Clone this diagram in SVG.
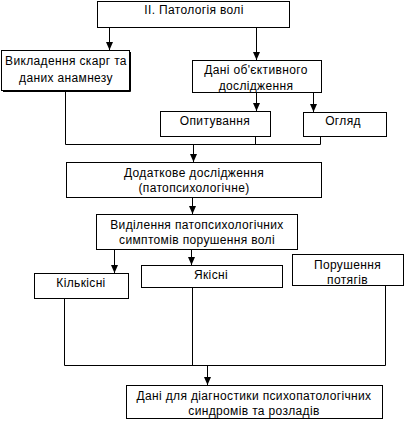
<svg xmlns="http://www.w3.org/2000/svg" width="408" height="426" viewBox="0 0 408 426">
<style>
rect{fill:#fff;stroke:#000;stroke-width:1}
text{font-family:"Liberation Sans",Arial,sans-serif;font-size:12px;letter-spacing:0.35px;fill:#000;text-anchor:middle}
.c line,.c polyline{stroke:#000;stroke-width:1;fill:none}
.a{marker-end:url(#arr)}
</style>
<defs>
<marker id="arr" viewBox="0 0 8 7" refX="8" refY="3.5" markerWidth="8" markerHeight="7" markerUnits="userSpaceOnUse" orient="auto">
<path d="M0,0 L8,3.5 L0,7 z" fill="#000"/>
</marker>
</defs>
<rect x="0" y="0" width="408" height="426" style="stroke:none"/>
<g class="c">
<line class="a" x1="109.5" y1="28" x2="109.5" y2="50"/>
<line class="a" x1="256.5" y1="28" x2="256.5" y2="60"/>
<line class="a" x1="256.5" y1="93" x2="256.5" y2="111"/>
<line class="a" x1="313.5" y1="93" x2="313.5" y2="112"/>
<polyline points="65.5,91 65.5,144.5 320.5,144.5 320.5,137"/>
<line x1="255.5" y1="137" x2="255.5" y2="144.5"/>
<line class="a" x1="193.5" y1="144.5" x2="193.5" y2="162"/>
<line class="a" x1="192.5" y1="198" x2="192.5" y2="214"/>
<line class="a" x1="114.5" y1="250" x2="114.5" y2="273"/>
<line class="a" x1="191.5" y1="250" x2="191.5" y2="265"/>
<polyline points="64.5,299 64.5,365.5 385.5,365.5 385.5,286"/>
<line x1="192.5" y1="288" x2="192.5" y2="365.5"/>
<line class="a" x1="207.5" y1="365.5" x2="207.5" y2="385"/>
</g>
<g id="n1">
<rect x="97.5" y="1.5" width="192" height="26"/>
<text x="194" y="14">II. Патологія волі</text>
</g>
<g id="n2">
<polyline points="3,91.5 130.5,91.5 130.5,52" style="stroke:#000;fill:none"/>
<rect x="1.5" y="50.5" width="128" height="40"/>
<text x="66" y="65">Викладення скарг та</text>
<text x="66" y="82">даних анамнезу</text>
</g>
<g id="n3">
<rect x="192.5" y="60.5" width="129" height="32"/>
<text x="256" y="74">Дані об'єктивного</text>
<text x="256" y="89.5">дослідження</text>
</g>
<g id="n4">
<rect x="160.5" y="111.5" width="110" height="25"/>
<text x="215" y="125">Опитування</text>
</g>
<g id="n5">
<rect x="303.5" y="112.5" width="83" height="24"/>
<text x="343" y="125">Огляд</text>
</g>
<g id="n6">
<rect x="66.5" y="162.5" width="255" height="35"/>
<text x="194" y="176.5">Додаткове дослідження</text>
<text x="194" y="192">(патопсихологічне)</text>
</g>
<g id="n7">
<rect x="96.5" y="214.5" width="201" height="35"/>
<text x="197" y="228.5">Виділення патопсихологічних</text>
<text x="197" y="244">симптомів порушення волі</text>
</g>
<g id="n8">
<rect x="34.5" y="273.5" width="94" height="25"/>
<text x="81" y="287">Кількісні</text>
</g>
<g id="n9">
<rect x="141.5" y="265.5" width="141" height="22"/>
<text x="211" y="278.5">Якісні</text>
</g>
<g id="n10">
<rect x="292.5" y="254.5" width="111" height="31"/>
<text x="347.5" y="269">Порушення</text>
<text x="347.5" y="284">потягів</text>
</g>
<g id="n11">
<rect x="126.5" y="385.5" width="256" height="33"/>
<text x="254" y="399.5">Дані для діагностики психопатологічних</text>
<text x="254" y="415">синдромів та розладів</text>
</g>
</svg>
